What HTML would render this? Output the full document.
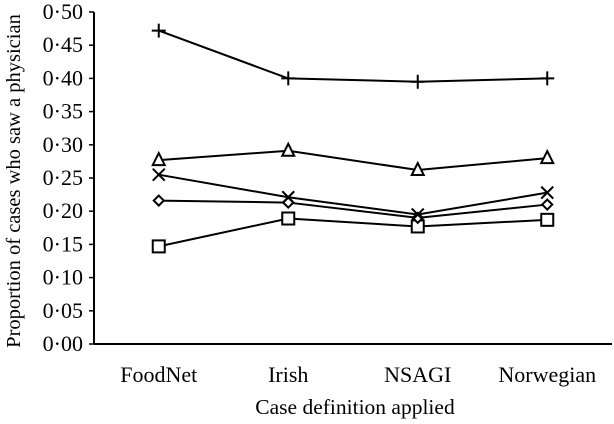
<!DOCTYPE html>
<html><head><meta charset="utf-8"><style>
body{margin:0;background:#fff}
svg text{font-family:"Liberation Serif",serif;fill:#000}
</style></head><body>
<svg id="chart" width="614" height="419" viewBox="0 0 614 419" xmlns="http://www.w3.org/2000/svg"></svg>
<script>
const categories=["FoodNet","Irish","NSAGI","Norwegian"];
const yTicks=["0·00","0·05","0·10","0·15","0·20","0·25","0·30","0·35","0·40","0·45","0·50"];
const plusSeries=[0.472,0.400,0.395,0.400];
const triangleSeries=[0.277,0.291,0.262,0.280];
const crossSeries=[0.255,0.221,0.195,0.228];
const diamondSeries=[0.216,0.213,0.190,0.210];
const squareSeries=[0.147,0.189,0.177,0.187];
const NS="http://www.w3.org/2000/svg";
const svg=document.getElementById('chart');
const x0=94,x1=612,y0=344,y1=12;
const xScale=i=>x0+(x1-x0)/categories.length*(i+0.5);
const yScale=v=>y0-(v/0.5)*(y0-y1);
function el(t,a,p){const e=document.createElementNS(NS,t);for(const k in a)e.setAttribute(k,a[k]);(p||svg).appendChild(e);return e;}
const ax=el('g',{});


el('line',{x1:x0,y1:y1,x2:x0,y2:y0,stroke:'#000','stroke-width':2},ax);
el('line',{x1:x0,y1:y0,x2:x1,y2:y0,stroke:'#000','stroke-width':2},ax);
yTicks.forEach((t,i)=>{const y=yScale(i*0.05);
el('line',{x1:x0-5,y1:y,x2:x0,y2:y,stroke:'#000','stroke-width':1.5},ax);
const tx=el('text',{x:83,y:y+7,'text-anchor':'end','font-size':22},ax);tx.textContent=t;

});
categories.forEach((c,i)=>{const tx=el('text',{x:xScale(i),y:382,'text-anchor':'middle','font-size':22},ax);tx.textContent=c;

});
const xt=el('text',{x:355,y:414,'text-anchor':'middle','font-size':21.5});xt.textContent='Case definition applied';


const yt=el('text',{x:0,y:0,'text-anchor':'middle','font-size':20.5,transform:'translate(20,181) rotate(-90)'});yt.textContent='Proportion of cases who saw a physician';


function marker(g,type,x,y){const s={stroke:'#000','stroke-width':2,fill:'#fff'};
if(type==='plus'){el('path',Object.assign({},s,{d:`M${x-7} ${y}H${x+7}M${x} ${y-7}V${y+7}`}),g);}
else if(type==='tri'){el('path',Object.assign({},s,{d:`M${x} ${y-7}L${x+6} ${y+5}L${x-6} ${y+5}Z`}),g);}
else if(type==='cross'){el('path',Object.assign({},s,{d:`M${x-6} ${y-6}L${x+6} ${y+6}M${x+6} ${y-6}L${x-6} ${y+6}`}),g);}
else if(type==='dia'){el('path',Object.assign({},s,{d:`M${x} ${y-5}L${x+5} ${y}L${x} ${y+5}L${x-5} ${y}Z`}),g);}
else {el('rect',Object.assign({},s,{x:x-6,y:y-6,width:12,height:12}),g);}}
[[squareSeries,'sq','series-square'],[diamondSeries,'dia','series-diamond'],[crossSeries,'cross','series-cross'],[triangleSeries,'tri','series-triangle'],[plusSeries,'plus','series-plus']].forEach(([d,m,n])=>{
const g=el('g',{});


el('polyline',{points:d.map((v,i)=>xScale(i)+','+yScale(v)).join(' '),fill:'none',stroke:'#000','stroke-width':2},g);
d.forEach((v,i)=>marker(g,m,xScale(i),yScale(v)));});
</script>
</body></html>
